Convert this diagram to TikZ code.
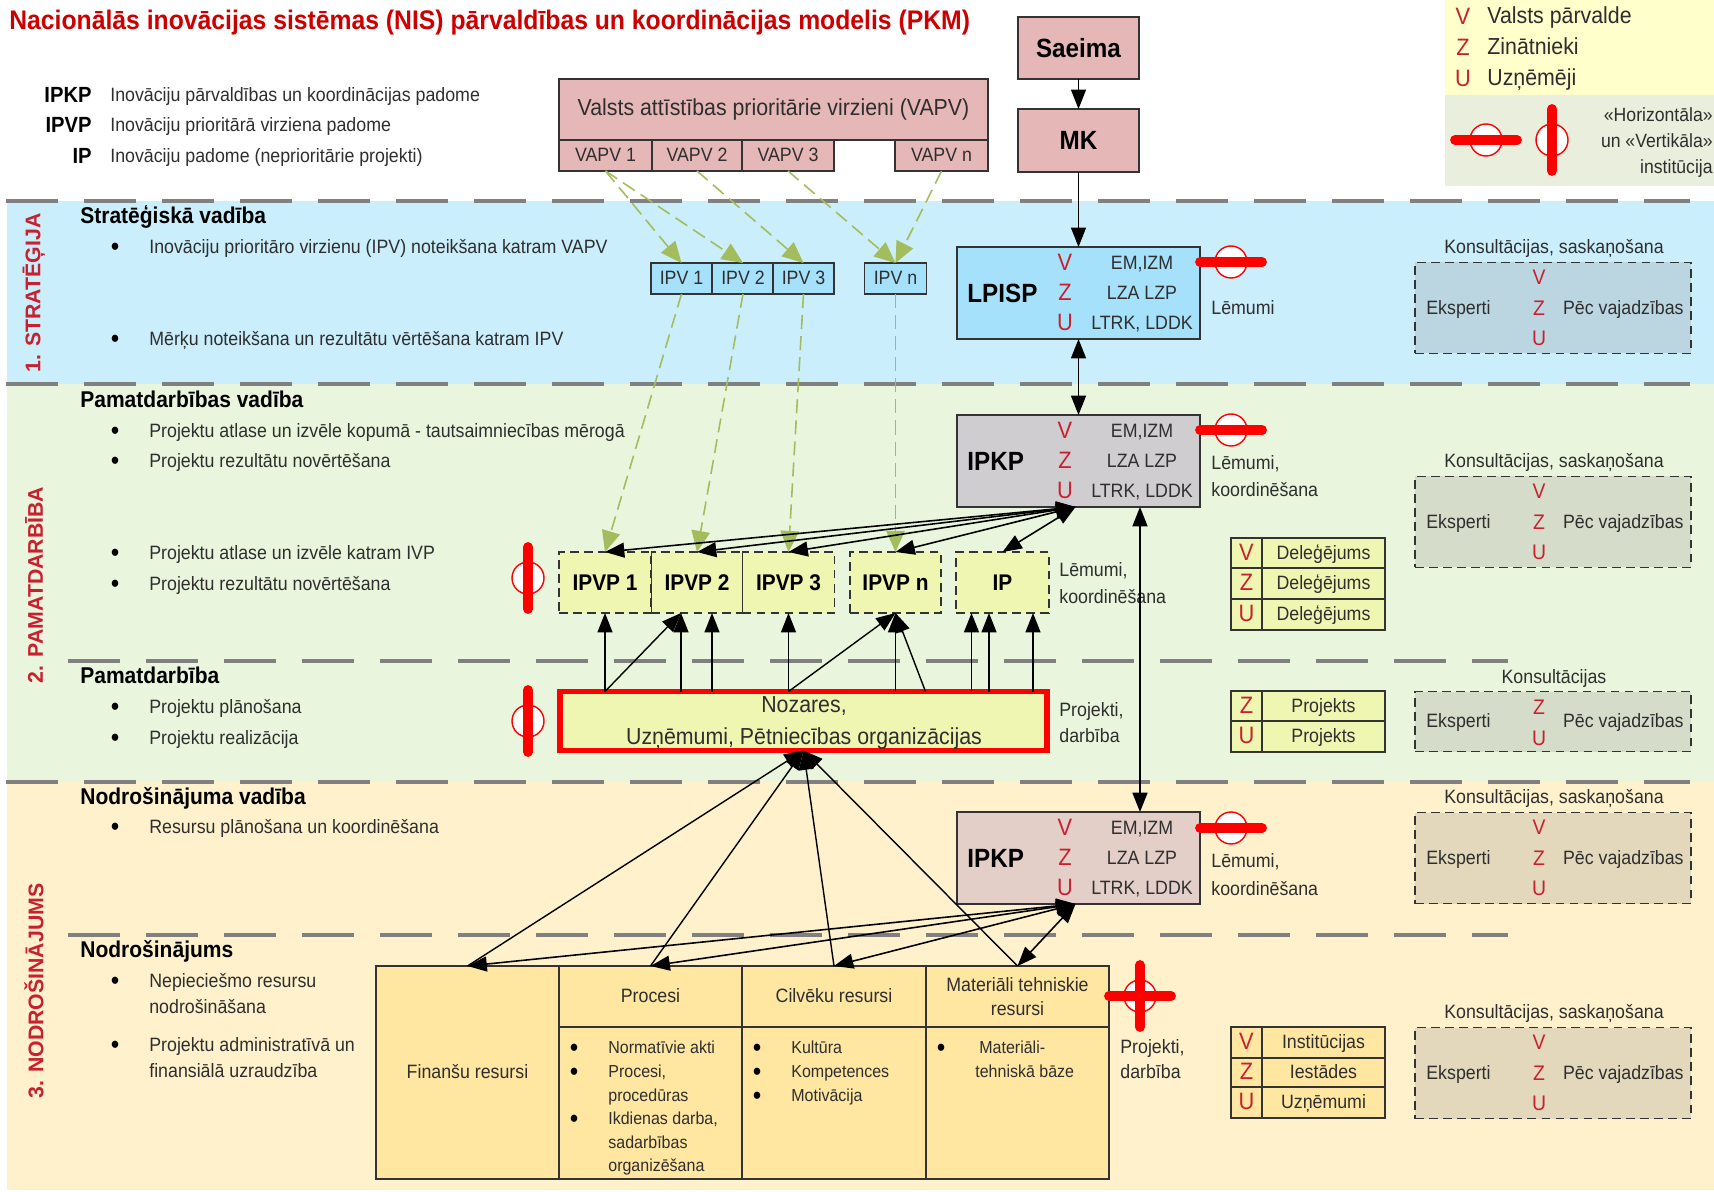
\documentclass[tikz,border=0pt]{standalone}
\usepackage{fontspec}
\setmainfont[FakeStretch=0.92]{Liberation Sans}
\newfontfamily\sectfont{Liberation Sans}
\usetikzlibrary{arrows.meta}
\definecolor{bandblue}{HTML}{CAEEFB}
\definecolor{bandgreen}{HTML}{E9F5DC}
\definecolor{bandyellow}{HTML}{FEF1CC}
\definecolor{rosefill}{HTML}{E5B8B7}
\definecolor{lpispblue}{HTML}{A5E1FA}
\definecolor{ipkpgrey}{HTML}{CFCDD0}
\definecolor{ipkprose}{HTML}{E4CFC8}
\definecolor{limefill}{HTML}{EFF6B2}
\definecolor{sandfill}{HTML}{FFE6A1}
\definecolor{votered}{HTML}{C8202F}
\definecolor{arrowgreen}{HTML}{A3BC5E}
\definecolor{darktxt}{HTML}{2E2E2E}
\definecolor{legendyellow}{HTML}{FFFFCC}
\definecolor{legendgrey}{HTML}{EAEEDD}
\definecolor{consblue}{HTML}{BBD5E1}
\definecolor{consgreen}{HTML}{D5DCCA}
\definecolor{constan}{HTML}{E3D8BC}
\tikzset{
	txt/.style={font=\fontsize{11}{13}\selectfont,text=darktxt,inner sep=0,text height=9pt,text depth=2pt},
	txt small/.style={txt,font=\fontsize{9.9}{12}\selectfont,text height=8pt},
	bullet dot/.style={txt,font=\fontsize{15}{15}\selectfont,text=black,text height=10pt,text depth=0pt},
	head/.style={font=\fontsize{13}{15}\selectfont\bfseries,text=black,inner sep=0,text height=11.5pt,text depth=2.5pt,anchor=west},
	red letter/.style={font=\fontsize{13.5}{15}\selectfont,text=votered,inner sep=0,text height=8pt,text depth=0pt},
	cons letter/.style={red letter,font=\fontsize{12}{14}\selectfont},
	sect/.style={font=\sectfont\fontsize{12.1}{14}\selectfont\bfseries,text=votered,rotate=90,inner sep=0},
	box/.style 2 args={draw=black!80,line width=.9pt,inner sep=0,outer sep=0,minimum width=#1*0.02cm,minimum height=#2*0.02cm},
	dash box/.style={dash pattern=on 5pt off 3pt},
	band line/.style={draw=black!50,line width=2.6pt,dash pattern=on 1.04cm off .52cm},
	arr/.style={line width=.8pt,-{Triangle[length=11pt,width=8.5pt]}},
	duo/.style={line width=.9pt,{Triangle[length=11pt,width=8.5pt]}-{Triangle[length=11pt,width=8.5pt]}},
	greenarr/.style={draw=arrowgreen,line width=.9pt,dash pattern=on 8pt off 4pt,-{Triangle[length=12pt,width=10.5pt,fill=arrowgreen]}},
	sym circ/.style={circle,draw=red,line width=.8pt,fill=white,minimum size=.64cm,inner sep=0},
	red bar/.style={draw=red,line width=5.6pt,line cap=round}
}
\newcommand{\horsym}[2]{\node[sym circ] (#1) at (#2) {};
	\draw[red bar] ([xshift=-.62cm]#1.center) -- ([xshift=.62cm]#1.center);}
\newcommand{\versym}[2]{\node[sym circ] (#1) at (#2) {};
	\draw[red bar] ([yshift=-.62cm]#1.center) -- ([yshift=.62cm]#1.center);}
\begin{document}
\begin{tikzpicture}[x=0.02cm,y=-0.02cm]
	\useasboundingbox (0,0) rectangle (1714,1192);
	% bands
	\fill[bandblue] (7,201) rectangle (1714,384);
	\fill[bandgreen] (7,384) rectangle (1714,782);
	\fill[bandyellow] (7,782) rectangle (1714,1190);
	\foreach\y in{201,384,782} {\draw[band line] (6,\y) -- (1690,\y);}
	\foreach\y in{661,935} {\draw[band line] (68,\y) -- (1508,\y);}
	\node[sect] (sect1) at (34,293) {1. STRATĒĢIJA};
	\node[sect] (sect2) at (34,585) {2. PAMATDARBĪBA};
	\node[sect] (sect3) at (34,991) {3. NODROŠINĀJUMS};
	% title and abbreviations
	\node[anchor=west,inner sep=0,font=\fontsize{15.3}{17}\selectfont\bfseries,text=red!80!black] (title) at (9,23) {Nacionālās inovācijas sistēmas (NIS) pārvaldības un koordinācijas modelis (PKM)};
	\foreach\a/\b/\y in{IPKP/Inovāciju pārvaldības un koordinācijas padome/95,IPVP/Inovāciju prioritārā virziena padome/125,IP/Inovāciju padome (neprioritārie projekti)/156}
		{\node[head,anchor=east,font=\fontsize{12.5}{14}\selectfont\bfseries] (abbr\a) at (92,\y) {\a};
		\node[txt,anchor=west] (expl\a) at (110,\y) {\b};}
	% legend
	\fill[legendyellow] (1445,0) rectangle (1714,95);
	\fill[legendgrey] (1445,95) rectangle (1714,186);
	\foreach\l/\s/\y in{V/Valsts pārvalde/17,Z/Zinātnieki/48,U/Uzņēmēji/79}
		{\node[red letter] (leg\l) at (1463,\y) {\l};
		\node[txt,anchor=west,font=\fontsize{13.2}{15}\selectfont] (leg\l text) at (1487,\y) {\s};}
	\horsym{legh}{1486,140}
	\versym{legv}{1552,140}
	\node[txt,anchor=east,font=\fontsize{10.9}{13}\selectfont] (legt1) at (1713,115) {«Horizontāla»};
	\node[txt,anchor=east,font=\fontsize{10.9}{13}\selectfont] (legt2) at (1713,141) {un «Vertikāla»};
	\node[txt,anchor=east,font=\fontsize{10.9}{13}\selectfont] (legt3) at (1713,167) {institūcija};
	% left column
	\foreach\k/\s/\y in{a/Stratēģiskā vadība/216,b/Pamatdarbības vadība/400,c/Pamatdarbība/676,d/Nodrošinājuma vadība/797,e/Nodrošinājums/950}
		{\node[head] (head\k) at (80,\y) {\s};}
	\foreach\k/\s/\y in{1/Inovāciju prioritāro virzienu (IPV) noteikšana katram VAPV/247,2/Mērķu noteikšana un rezultātu vērtēšana katram IPV/339,3/Projektu atlase un izvēle kopumā - tautsaimniecības mērogā/431,4/Projektu rezultātu novērtēšana/461,5/Projektu atlase un izvēle katram IVP/553,6/Projektu rezultātu novērtēšana/584,7/Projektu plānošana/707,8/Projektu realizācija/738,9/Resursu plānošana un koordinēšana/827,10/Nepieciešmo resursu/981,11/Projektu administratīvā un/1045}
		{\node[bullet dot] (dot\k) at (115,\y) {•};
		\node[txt,anchor=west] (item\k) at (149,\y) {\s};}
	\node[txt,anchor=west] (item10b) at (149,1007) {nodrošināšana};
	\node[txt,anchor=west] (item11b) at (149,1071) {finansiālā uzraudzība};
	% government boxes
	\node[box={429}{61},fill=rosefill,font=\fontsize{13.2}{15}\selectfont,text=darktxt] (vapv) at (773.5,109.5) {Valsts attīstības prioritārie virzieni (VAPV)};
	\foreach\n/\s/\x/\w in{vapv1/VAPV 1/605.5/93,vapv2/VAPV 2/697/90,vapv3/VAPV 3/788/92,vapvn/VAPV n/941.5/93}
		{\node[box={\w}{31},fill=rosefill,txt] (\n) at (\x,155.5) {\s};}
	\node[box={121}{62},fill=rosefill,font=\fontsize{15}{17}\selectfont\bfseries] (saeima) at (1078.5,48) {Saeima};
	\node[box={121}{63},fill=rosefill,font=\fontsize{15}{17}\selectfont\bfseries] (mk) at (1078.5,140.5) {MK};
	\foreach\n/\s/\x/\w in{ipv1/IPV 1/681.5/61,ipv2/IPV 2/743/61,ipv3/IPV 3/803.5/61,ipvn/IPV n/895.5/62}
		{\node[box={\w}{31},fill=lpispblue,txt] (\n) at (\x,278.5) {\s};}
	\foreach\bx/\lab/\c/\y in{lpisp/LPISP/lpispblue/293,ipkpa/IPKP/ipkpgrey/461,ipkpb/IPKP/ipkprose/858}
		{\node[box={243}{92},fill=\c] (\bx) at (1078.5,\y) {};
		\node[inner sep=0,anchor=west,font=\fontsize{15}{17}\selectfont\bfseries] (\bx name) at (967,\y) {\lab};
		\node[red letter] (\bx v) at (1065,\y-30) {V};
		\node[red letter] (\bx z) at (1065,\y) {Z};
		\node[red letter] (\bx u) at (1065,\y+30) {U};
		\node[txt] (\bx r1) at (1142,\y-30) {EM,IZM};
		\node[txt] (\bx r2) at (1142,\y) {LZA LZP};
		\node[txt] (\bx r3) at (1142,\y+30) {LTRK, LDDK};}
	\node[txt,anchor=west] (lem1) at (1211,308) {Lēmumi};
	\node[txt,anchor=west] (lem2) at (1211,463) {Lēmumi,};
	\node[txt,anchor=west] (lem2b) at (1211,490) {koordinēšana};
	\node[txt,anchor=west] (lem3) at (1211,861) {Lēmumi,};
	\node[txt,anchor=west] (lem3b) at (1211,889) {koordinēšana};
	% councils
	\foreach\n/\s/\x/\w in{ipvp1/IPVP 1/605/92,ipvp2/IPVP 2/697/91,ipvp3/IPVP 3/788.5/92,ipvpn/IPVP n/895.5/91,ip/IP/1002.5/93}
		{\node[box={\w}{61},dash box,fill=limefill,font=\fontsize{12.9}{15}\selectfont\bfseries] (\n) at (\x,582.5) {\s};}
	\node[txt,anchor=west] (lem4) at (1059,570) {Lēmumi,};
	\node[txt,anchor=west] (lem4b) at (1059,597) {koordinēšana};
	\node[box={487}{59},draw=red,line width=3.4pt,fill=limefill] (noz) at (803.5,721) {};
	\node[txt,font=\fontsize{13.2}{15}\selectfont] (noza) at (804,706) {Nozares,};
	\node[txt,font=\fontsize{13.2}{15}\selectfont] (nozb) at (804,738) {Uzņēmumi, Pētniecības organizācijas};
	\node[txt,anchor=west] (prj1) at (1059,710) {Projekti,};
	\node[txt,anchor=west] (prj1b) at (1059,736) {darbība};
	% resources
	\node[box={183.5}{213},fill=sandfill,txt] (fin) at (467.5,1072.5) {Finanšu resursi};
	\node[box={183}{61},fill=sandfill,txt] (proc) at (650.5,996.5) {Procesi};
	\node[box={184}{61},fill=sandfill,txt] (cilv) at (834,996.5) {Cilvēku resursi};
	\node[box={183}{61},fill=sandfill,text=darktxt,align=center,font=\fontsize{11}{14}\selectfont] (mat) at (1017.5,996.5) {Materiāli tehniskie\\resursi};
	\node[box={183}{152},fill=sandfill] (procb) at (650.5,1103) {};
	\node[box={184}{152},fill=sandfill] (cilvb) at (834,1103) {};
	\node[box={183}{152},fill=sandfill] (matb) at (1017.5,1103) {};
	\foreach\k/\y in{a/1048,b/1072,d/1119}
		{\node[bullet dot] (pdot\k) at (574,\y) {•};}
	\foreach\k/\s/\y in{a/Normatīvie akti/1048,b/{Procesi,}/1072,c/procedūras/1096,d/{Ikdienas darba,}/1119,e/sadarbības/1143,f/organizēšana/1166}
		{\node[txt small,anchor=west] (ptxt\k) at (608,\y) {\s};}
	\foreach\k/\s/\y in{a/Kultūra/1048,b/Kompetences/1072,c/Motivācija/1096}
		{\node[bullet dot] (cdot\k) at (757,\y) {•};
		\node[txt small,anchor=west] (ctxt\k) at (791,\y) {\s};}
	\node[bullet dot] (mdot) at (941,1048) {•};
	\node[txt small,anchor=west] (mtxta) at (979,1048) {Materiāli-};
	\node[txt small,anchor=west] (mtxtb) at (975,1072) {tehniskā bāze};
	\node[txt,anchor=west] (prj2) at (1120,1047) {Projekti,};
	\node[txt,anchor=west] (prj2b) at (1120,1072) {darbība};
	% delegation tables
	\foreach\k/\l/\s/\y/\h/\c in{a/V/Deleģējums/553/30.5/limefill,b/Z/Deleģējums/583.5/30.5/limefill,c/U/Deleģējums/614.5/31/limefill,d/Z/Projekts/706/30/limefill,e/U/Projekts/736.5/31/limefill,f/V/Institūcijas/1042.5/31/sandfill,g/Z/Iestādes/1072.5/29/sandfill,h/U/Uzņēmumi/1102.5/31/sandfill}
		{\node[box={31}{\h},fill=\c,red letter] (del\k) at (1246.5,\y) {\l};
		\node[box={123}{\h},fill=\c,txt] (del\k t) at (1323.5,\y) {\s};}
	% consultation boxes
	\foreach\k/\s/\ys/\y/\c in{a/{Konsultācijas, saskaņošana}/247/308/consblue,b/{Konsultācijas, saskaņošana}/461/522/consgreen,c/{Konsultācijas, saskaņošana}/797/858/constan,d/{Konsultācijas, saskaņošana}/1012/1073/constan}
		{\node[txt] (kons\k) at (1554,\ys) {\s};
		\node[box={276}{91},dash box,fill=\c] (eks\k) at (1553,\y) {};
		\node[txt,anchor=west] (eks\k a) at (1426,\y) {Eksperti};
		\node[txt,anchor=east] (eks\k b) at (1684,\y) {Pēc vajadzības};
		\node[cons letter] (eks\k v) at (1539,\y-30.5) {V};
		\node[cons letter] (eks\k z) at (1539,\y) {Z};
		\node[cons letter] (eks\k u) at (1539,\y+30.5) {U};}
	\node[txt] (konse) at (1554,677) {Konsultācijas};
	\node[box={276}{60},dash box,fill=consgreen] (ekse) at (1553,721.5) {};
	\node[txt,anchor=west] (ekse a) at (1426,721) {Eksperti};
	\node[txt,anchor=east] (ekse b) at (1684,721) {Pēc vajadzības};
	\node[cons letter] (ekse z) at (1539,707) {Z};
	\node[cons letter] (ekse u) at (1539,738) {U};
	% connectors
	\foreach\a/\b in{vapv1/ipv1,vapv1/ipv2,vapv2/ipv3,vapv3/ipvn,vapvn/ipvn}
		{\draw[greenarr] (\a.south) -- (\b.north);}
	\foreach\a/\b in{ipv1/ipvp1,ipv2/ipvp2,ipv3/ipvp3,ipvn/ipvpn}
		{\draw[greenarr] (\a.south) -- (\b.north);}
	\draw[arr] (saeima) -- (mk);
	\draw[arr] (mk) -- (lpisp);
	\draw[duo] (lpisp) -- (ipkpa);
	\draw[duo] ([xshift=1.23cm]ipkpa.south) -- ([xshift=1.23cm]ipkpb.north);
	\coordinate (hub a) at ([xshift=-.06cm]ipkpa.south);
	\coordinate (hub b) at ([xshift=-.06cm]ipkpb.south);
	\foreach\n in{ipvp1,ipvp2,ipvp3,ipvpn,ip} {\draw[duo] (hub a) -- (\n.north);}
	\foreach\n in{fin,proc,cilv,mat} {\draw[duo] (hub b) -- (\n.north);}
	\foreach\n in{fin,proc,cilv,mat} {\draw[arr] (\n.north) -- (noz.south);}
	\foreach\n in{ipvp1,ipvp3,ipvpn} {\draw[arr] (noz.north -| \n.south) -- (\n.south);}
	\foreach\n/\d in{ipvp2/-.32cm,ipvp2/.3cm,ip/-.62cm,ip/-.27cm,ip/.61cm}
		{\draw[arr] ([xshift=\d]\n.south |- noz.north) -- ([xshift=\d]\n.south);}
	\draw[arr] (noz.north -| ipvp1.south) -- ([xshift=-.32cm]ipvp2.south);
	\draw[arr] (noz.north -| ipvp3.south) -- (ipvpn.south);
	\draw[arr] ([xshift=.6cm]ipvpn.south |- noz.north) -- (ipvpn.south);
	% institution marks
	\horsym{hlpisp}{1231,262}
	\horsym{hipkpa}{1231,430}
	\horsym{hipkpb}{1231,828}
	\versym{vipvp}{528,578}
	\versym{vnoz}{528,721}
	\horsym{hmat}{1140,996}
	\draw[red bar] ([yshift=-.62cm]hmat.center) -- ([yshift=.62cm]hmat.center);
\end{tikzpicture}
\end{document}
